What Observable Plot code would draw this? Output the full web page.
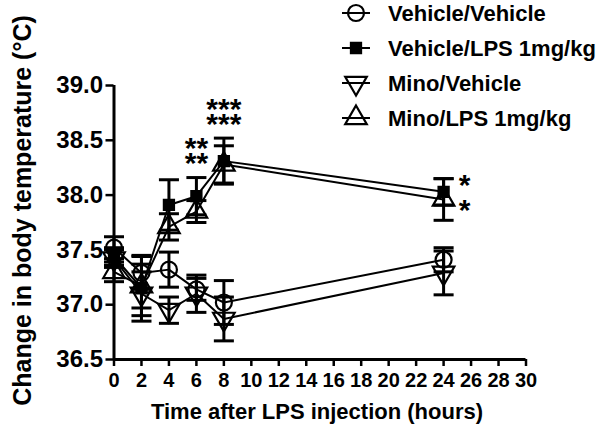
<!DOCTYPE html>
<html><head><meta charset="utf-8">
<script src="https://cdn.jsdelivr.net/npm/d3@7"></script>
<script src="https://cdn.jsdelivr.net/npm/@observablehq/plot@0.6"></script>
<style>
body{margin:0;background:#fff;}
#wrap{position:relative;width:600px;height:426px;font-family:"Liberation Sans",Arial,sans-serif;}
#wrap svg.legend{position:absolute;left:0;top:0;}
</style></head><body><div id="wrap"></div>
<script>
// ---- data ----
const times = [0, 2, 4, 6, 8, 24];
const seriesNames = ["Vehicle/Vehicle", "Vehicle/LPS 1mg/kg", "Mino/Vehicle", "Mino/LPS 1mg/kg"];
const vehVehMean  = [37.52, 37.29, 37.32, 37.14, 37.02, 37.41];
const vehVehSem   = [0.10, 0.15, 0.16, 0.10, 0.20, 0.11];
const vehLpsMean  = [37.44, 37.15, 37.91, 37.99, 38.31, 38.03];
const vehLpsSem   = [0.08, 0.30, 0.23, 0.17, 0.21, 0.12];
const minoVehMean = [37.42, 37.10, 36.95, 37.10, 36.87, 37.29];
const minoVehSem  = [0.08, 0.20, 0.12, 0.17, 0.20, 0.20];
const minoLpsMean = [37.30, 37.17, 37.71, 37.85, 38.28, 37.96];
const minoLpsSem  = [0.09, 0.20, 0.12, 0.10, 0.17, 0.19];
const xTickValues = [0, 2, 4, 6, 8, 10, 12, 14, 16, 18, 20, 22, 24, 26, 28, 30];
const yTickValues = [36.5, 37.0, 37.5, 38.0, 38.5, 39.0];
const xTitle = "Time after LPS injection (hours)";
const yTitle = "Change in body temperature (°C)";
// significance marks: one line per LPS group
const starsAbove = [{t: 6, label: "**\n**"}, {t: 8, label: "***\n***"}];
const starsRight = [{t: 24, label: "*\n*"}];

// ---- build table ----
const means = [vehVehMean, vehLpsMean, minoVehMean, minoLpsMean];
const sems = [vehVehSem, vehLpsSem, minoVehSem, minoLpsSem];
const rows = [];
seriesNames.forEach((s, i) => times.forEach((t, j) => rows.push({series: s, t, mean: means[i][j], sem: sems[i][j]})));
const ofSeries = s => rows.filter(r => r.series === s);
const lpsSeries = ["Vehicle/LPS 1mg/kg", "Mino/LPS 1mg/kg"];

const invTriangle = {draw(ctx, size) { const y = Math.sqrt(size / (3 * Math.sqrt(3))); ctx.moveTo(0, 2 * y); ctx.lineTo(-Math.sqrt(3) * y, -y); ctx.lineTo(Math.sqrt(3) * y, -y); ctx.closePath(); }};
const capSymbol = {draw(ctx, size) { const w = Math.sqrt(size) / 2; ctx.moveTo(-w, 0); ctx.lineTo(w, 0); }};
const symbolSpec = {
  "Vehicle/Vehicle": {symbol: "circle", r: 8, fill: "none"},
  "Vehicle/LPS 1mg/kg": {symbol: "square", r: 5.7, fill: "black"},
  "Mino/Vehicle": {symbol: invTriangle, r: 8, fill: "none"},
  "Mino/LPS 1mg/kg": {symbol: "triangle", r: 8, fill: "none"}
};

const aboveRows = starsAbove.map(a => ({...a, y: d3.max(rows.filter(r => r.t === a.t), r => r.mean + r.sem)}));
const rightRows = starsRight.map(a => ({...a, y: d3.mean(rows.filter(r => r.t === a.t && lpsSeries.includes(r.series)), r => r.mean)}));

const font = "Liberation Sans, Arial, sans-serif";
const plot = Plot.plot({
  width: 600, height: 426,
  marginLeft: 113.5, marginRight: 74.5, marginTop: 85, marginBottom: 67,
  x: {domain: [0, 30]},
  y: {domain: [36.5, 39.0]},
  style: {fontFamily: font, background: "white", color: "black"},
  marks: [
    Plot.ruleX(rows, {x: "t", y1: d => d.mean - d.sem, y2: d => d.mean + d.sem, stroke: "black", strokeWidth: 3}),
    Plot.dot(rows, {x: "t", y: d => d.mean + d.sem, symbol: capSymbol, r: 11.3, fill: "none", stroke: "black", strokeWidth: 3}),
    Plot.dot(rows, {x: "t", y: d => d.mean - d.sem, symbol: capSymbol, r: 11.3, fill: "none", stroke: "black", strokeWidth: 3}),
    Plot.line(rows, {x: "t", y: "mean", z: "series", stroke: "black", strokeWidth: 2}),
    ...seriesNames.map(s => Plot.dot(ofSeries(s), {x: "t", y: "mean", symbol: symbolSpec[s].symbol, r: symbolSpec[s].r, fill: symbolSpec[s].fill, stroke: "black", strokeWidth: 2.2})),
    Plot.text(aboveRows, {x: "t", y: "y", text: "label", dy: -16.5, fontSize: 30, fontWeight: "bold", lineAnchor: "middle", lineHeight: 0.5}),
    Plot.text(rightRows, {x: "t", y: "y", text: "label", dx: 21, dy: 4, fontSize: 30, fontWeight: "bold", lineAnchor: "middle", lineHeight: 0.83}),
    Plot.ruleX([0], {stroke: "black", strokeWidth: 3}),
    Plot.ruleY([36.5], {stroke: "black", strokeWidth: 3}),
    Plot.axisX({ticks: xTickValues, tickSize: 7, tickPadding: 6, fontSize: 20, fontWeight: "bold", strokeWidth: 2.5, label: null}),
    Plot.axisY({ticks: yTickValues, tickFormat: d3.format(".1f"), tickSize: 8, tickPadding: 3, fontSize: 24, fontWeight: "bold", strokeWidth: 2.5, label: null}),
    Plot.text([xTitle], {frameAnchor: "bottom", textAnchor: "middle", dx: -3, dy: 59, fontSize: 22, fontWeight: "bold", lineAnchor: "bottom"}),
    Plot.text([yTitle], {frameAnchor: "left", textAnchor: "middle", rotate: -90, dx: -91.5, dy: -12, fontSize: 25, fontWeight: "bold", lineAnchor: "middle"})
  ]
});
const wrap = document.getElementById("wrap");
wrap.appendChild(plot);

// ---- legend ----
const lg = d3.select(wrap).append("svg").attr("class", "legend").attr("width", 600).attr("height", 140);
seriesNames.forEach((s, i) => {
  const cy = 13 + i * 35;
  const g = lg.append("g");
  g.append("line").attr("x1", 342).attr("x2", 370).attr("y1", cy).attr("y2", cy).attr("stroke", "black").attr("stroke-width", 2);
  const spec = symbolSpec[s];
  const type = spec.symbol === "circle" ? d3.symbolCircle : spec.symbol === "square" ? d3.symbolSquare : spec.symbol === "triangle" ? d3.symbolTriangle : spec.symbol;
  g.append("path").attr("d", d3.symbol(type, Math.PI * spec.r * spec.r)()).attr("transform", `translate(356,${cy})`)
    .attr("fill", spec.fill).attr("stroke", "black").attr("stroke-width", 2.2);
  g.append("text").attr("x", 388).attr("y", cy).attr("dy", "0.36em").attr("font-size", 22).attr("font-weight", "bold")
    .attr("font-family", font).text(s);
});
</script></body></html>
